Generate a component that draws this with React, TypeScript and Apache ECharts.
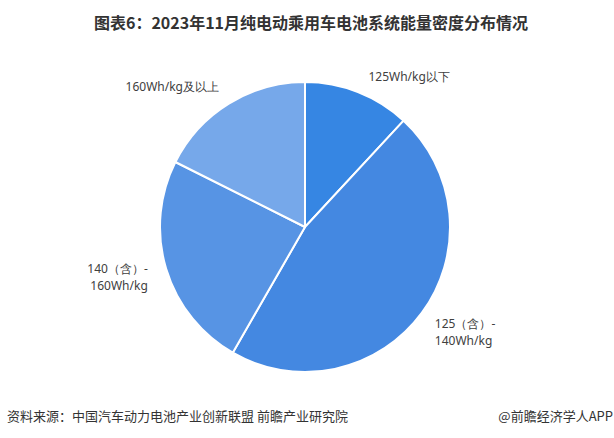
import React, { useEffect, useRef } from "react";
import * as echarts from "echarts";

const categories = ["125Wh/kg以下", "125（含）-\n140Wh/kg", "140（含）-\n160Wh/kg", "160Wh/kg及以上"];
const values = [11.9, 46.4, 24.1, 17.6];
const colors = ["#3686e3", "#4488e1", "#5794e4", "#76a8ea"];
const titleText = "图表6：2023年11月纯电动乘用车电池系统能量密度分布情况";
const sourceText = "资料来源：中国汽车动力电池产业创新联盟 前瞻产业研究院";
const brandText = "@前瞻经济学人APP";
const labelShift = [
  [-5, -2],
  [-9, 10],
  [6, 4],
  [8, -4],
];

export default function App() {
  const ref = useRef<HTMLDivElement>(null);
  useEffect(() => {
    document.body.style.margin = "0";
    const chart = echarts.init(ref.current!, undefined, { renderer: "svg" });
    chart.setOption({
      animation: false,
      backgroundColor: "#ffffff",
      title: {
        text: titleText,
        left: 306,
        top: 9,
        textAlign: "center",
        textStyle: {
          fontFamily: "Noto Sans CJK SC",
          fontWeight: "bold",
          fontSize: 16,
          color: "#333333",
        },
      },
      graphic: [
        {
          type: "text",
          left: 7,
          top: 409,
          style: {
            text: sourceText,
            fontFamily: "Noto Sans CJK SC",
            fontSize: 13,
            fill: "#333333",
          },
        },
        {
          type: "text",
          right: 1,
          top: 409,
          style: {
            text: brandText,
            fontFamily: "Noto Sans CJK SC",
            fontSize: 13,
            fill: "#333333",
          },
        },
      ],
      series: [
        {
          type: "pie",
          center: [305, 227],
          radius: [0, 145],
          startAngle: 90,
          clockwise: true,
          data: categories.map((c, i) => ({
            name: c,
            value: values[i],
            itemStyle: { color: colors[i] },
          })),
          itemStyle: { borderColor: "#ffffff", borderWidth: 2 },
          label: {
            show: true,
            position: "outside",
            formatter: "{b}",
            fontFamily: "Noto Sans",
            fontSize: 12,
            lineHeight: 17,
            color: "#404040",
          },
          labelLine: { show: false, length: 15, length2: 5 },
          labelLayout: (p: any) => ({
            dx: labelShift[p.dataIndex][0],
            dy: labelShift[p.dataIndex][1],
          }),
          emphasis: { disabled: true },
        },
      ],
    });
    return () => chart.dispose();
  }, []);
  return <div ref={ref} style={{ width: 614, height: 438 }} />;
}
